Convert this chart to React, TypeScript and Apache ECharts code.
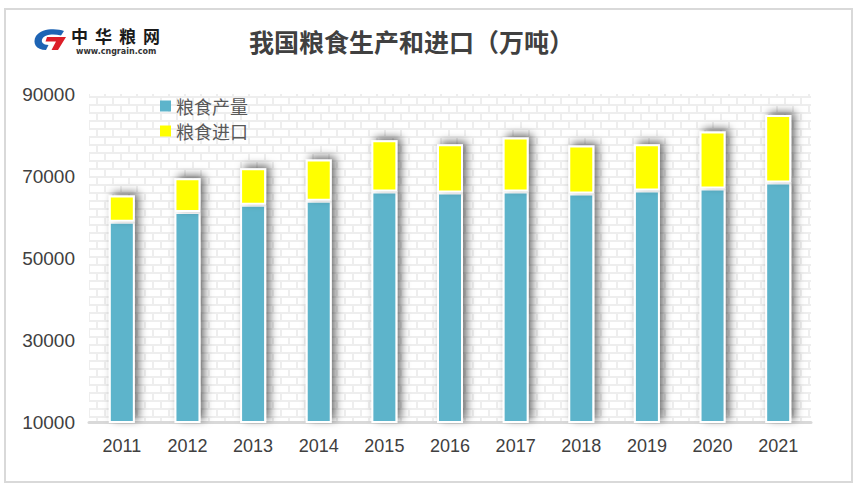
import React, { useEffect, useRef } from "react";
import * as echarts from "echarts";

const years = ["2011", "2012", "2013", "2014", "2015", "2016", "2017", "2018", "2019", "2020", "2021"];
const production = [58830, 61220, 63010, 63990, 66200, 65950, 66200, 65710, 66440, 66930, 68400];
const imports = [6390, 8240, 8900, 10060, 12510, 11780, 13170, 11700, 11290, 13920, 16450];
const yTicks = [10000, 30000, 50000, 70000, 90000];
const seriesNames = ["粮食产量", "粮食进口"];

echarts.graphic.registerShape(
  "logoBlue",
  echarts.graphic.extendPath(
    "M 31 3 C 24 0, 8 0, 3 8 C -1 15, 3 22, 13 22 L 15.5 17 C 10 17, 7.5 14, 9.5 10.5 C 12 6.5, 20 5.5, 28 7.5 Z",
    {}
  )
);
echarts.graphic.registerShape(
  "logoRed",
  echarts.graphic.extendPath("M 14 9 L 33 9 L 25 22 L 18.5 22 L 23 13.5 L 12.5 13.5 Z", {})
);

function makeBricks(): HTMLCanvasElement {
  const c = document.createElement("canvas");
  c.width = 32;
  c.height = 16;
  const ctx = c.getContext("2d")!;
  ctx.fillStyle = "#ffffff";
  ctx.fillRect(0, 0, 32, 16);
  ctx.fillStyle = "#eeeeee";
  ctx.fillRect(0, 0, 32, 2);
  ctx.fillRect(0, 8, 32, 2);
  ctx.fillRect(0, 0, 2, 8);
  ctx.fillRect(16, 0, 2, 8);
  ctx.fillRect(8, 8, 2, 8);
  ctx.fillRect(24, 8, 2, 8);
  return c;
}

export default function App() {
  const ref = useRef<HTMLDivElement>(null);
  useEffect(() => {
    document.body.style.margin = "0";
    const chart = echarts.init(ref.current!, null, { renderer: "svg" });
    const bricks = makeBricks();
    const barStyle = {
      borderColor: "#ffffff",
      borderWidth: 2,
      shadowBlur: 8,
      shadowColor: "rgba(0,0,0,0.55)",
      shadowOffsetX: 4,
      shadowOffsetY: -3,
    };
    chart.setOption({
      animation: false,
      backgroundColor: "#ffffff",
      title: {
        text: "我国粮食生产和进口（万吨）",
        left: 244,
        top: 23,
        textStyle: {
          fontSize: 25,
          fontWeight: "bold",
          color: "#404040",
          fontFamily: "Noto Sans CJK SC",
        },
      },
      legend: {
        orient: "vertical",
        left: 155,
        top: 92,
        itemWidth: 11,
        itemHeight: 11,
        itemGap: 7,
        icon: "rect",
        data: seriesNames,
        itemStyle: { borderWidth: 0, shadowBlur: 0, shadowOffsetX: 0, shadowOffsetY: 0 },
        textStyle: { fontSize: 18, color: "#595959", fontFamily: "Noto Sans CJK SC" },
      },
      grid: {
        left: 89,
        right: 49,
        top: 94,
        bottom: 71,
        show: true,
        borderWidth: 0,
        backgroundColor: { image: bricks, repeat: "repeat" },
      },
      xAxis: {
        type: "category",
        data: years,
        axisLine: { lineStyle: { color: "#d9d9d9", width: 3 } },
        axisTick: { show: false },
        axisLabel: {
          fontSize: 18,
          color: "#404040",
          margin: 15,
          fontFamily: "Liberation Sans",
        },
      },
      yAxis: {
        type: "value",
        min: 10000,
        max: 90000,
        interval: 10000,
        axisLine: { show: false },
        axisTick: { show: false },
        splitLine: { show: false },
        axisLabel: {
          fontSize: 19,
          color: "#404040",
          margin: 14,
          fontFamily: "Liberation Sans",
          formatter: (v: number) => (yTicks.includes(v) ? String(v) : ""),
        },
      },
      series: [
        {
          name: seriesNames[0],
          type: "bar",
          stack: "total",
          barWidth: 26,
          data: production,
          itemStyle: { ...barStyle, color: "#5db4cb" },
        },
        {
          name: seriesNames[1],
          type: "bar",
          stack: "total",
          barWidth: 26,
          data: imports,
          itemStyle: { ...barStyle, color: "#ffff00" },
        },
      ],
      graphic: [
        {
          type: "rect",
          shape: { x: 5, y: 9, width: 847, height: 473 },
          style: { fill: "none", stroke: "#d9d9d9", lineWidth: 2 },
          silent: true,
        },
        { type: "logoBlue", x: 33, y: 28, style: { fill: "#1e64b4" } },
        { type: "logoRed", x: 33, y: 28, style: { fill: "#dc1e28" } },
        ...["中", "华", "粮", "网"].map((ch, i) => ({
          type: "text",
          x: 71 + i * 24,
          y: 27,
          style: {
            text: ch,
            font: "bold 17px 'Noto Sans CJK SC'",
            fill: "#1a1a1a",
            textVerticalAlign: "top",
          },
        })),
        {
          type: "text",
          x: 76,
          y: 47,
          style: {
            text: "www.cngrain.com",
            font: "bold 8px 'DejaVu Sans'",
            fill: "#333333",
            textVerticalAlign: "top",
          },
        },
      ],
    });
    return () => chart.dispose();
  }, []);
  return <div ref={ref} style={{ width: 860, height: 493 }} />;
}
